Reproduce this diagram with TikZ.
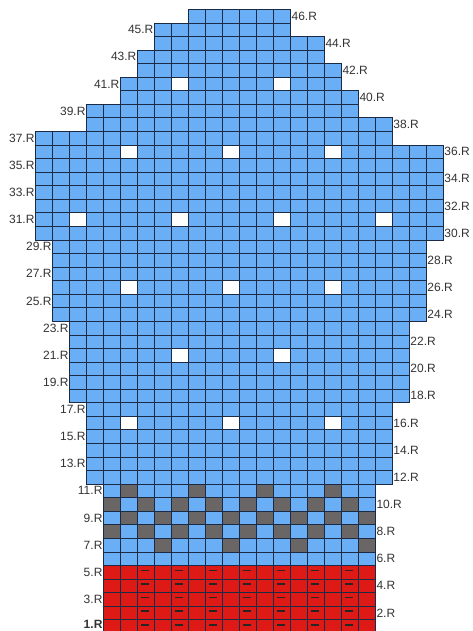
\documentclass[tikz,border=0pt]{standalone}
\usepackage{fontspec}
\setmainfont{Liberation Sans}
\usetikzlibrary{positioning}
\definecolor{woolblue}{HTML}{6AAFF5}
\definecolor{woolgray}{HTML}{6B6666}
\definecolor{woolred}{HTML}{DD1A16}
\definecolor{gridline}{HTML}{1B2B45}
\definecolor{labelgray}{HTML}{333333}

\begin{document}
\begin{tikzpicture}[
  x=16.98pt, y=13.563pt,
  stitch/.style={draw=gridline, line width=0.6pt},
  knit/.style={stitch, fill=woolblue},
  hole/.style={stitch, fill=white},
  contrast/.style={stitch, fill=woolgray},
  ribbing/.style={stitch, fill=woolred},
  purl/.style={line width=1.7pt, draw=black!85},
  rowlbl/.style={font=\fontsize{12}{14}\selectfont, text=labelgray, inner sep=1pt},
  oddlbl/.style={rowlbl, anchor=east},
  evenlbl/.style={rowlbl, anchor=west},
]
\useasboundingbox (0pt,0pt) rectangle (473pt,631pt);

\begin{scope}[shift={(35.7pt,-2.2pt)}]

% ---- Chart body: top row / bottom row / first col / last col / kind ----
\foreach \t/\u/\a/\b/\kind in {46/46/9/14/knit, 45/45/7/14/knit, 44/44/7/16/knit,
    43/43/6/16/knit, 42/42/6/17/knit, 41/41/5/17/knit, 40/40/5/18/knit,
    39/39/3/18/knit, 38/38/3/20/knit, 37/37/0/20/knit, 36/30/0/23/knit,
    29/24/1/22/knit, 23/18/2/21/knit, 17/12/3/20/knit, 11/6/4/19/knit,
    5/1/4/19/ribbing} {
  \foreach \r in {\u,...,\t} {
    \foreach \c in {\a,...,\b}
      \draw[\kind] (\c,\r-1) rectangle ++(1,1);
    % row numbers: odd on the left, even on the right
    \ifodd\r
      \ifnum\r=1
        \node[oddlbl, yshift=2pt] (lbl\r) at (\a,\r-0.5) {\bfseries\r.R};
      \else
        \node[oddlbl] (lbl\r) at (\a,\r-0.5) {\r.R};
      \fi
    \else
      \pgfmathtruncatemacro{\e}{\b+1}
      \node[evenlbl] (lbl\r) at (\e,\r-0.5) {\r.R};
    \fi
  }
}

% ---- Eyelet holes ----
\foreach \r/\cols in {41/{8,14}, 36/{5,11,17}, 31/{2,8,14,20},
    26/{5,11,17}, 21/{8,14}, 16/{5,11,17}}
  \foreach \c in \cols
    \draw[hole] (\c,\r-1) rectangle ++(1,1);

% ---- Two-colour band ----
\foreach \r/\cols in {11/{5,9,13,17}, 10/{4,6,...,18}, 9/{5,7,...,19},
    8/{4,6,...,18}, 7/{7,11,15,19}}
  \foreach \c in \cols
    \draw[contrast] (\c,\r-1) rectangle ++(1,1);

% ---- Purl marks in the rib ----
\foreach \r in {1,...,5}
  \foreach \c in {6,8,...,18}
    \draw[purl] (\c+0.22,\r-0.37) -- (\c+0.68,\r-0.37);

\end{scope}
\end{tikzpicture}
\end{document}
